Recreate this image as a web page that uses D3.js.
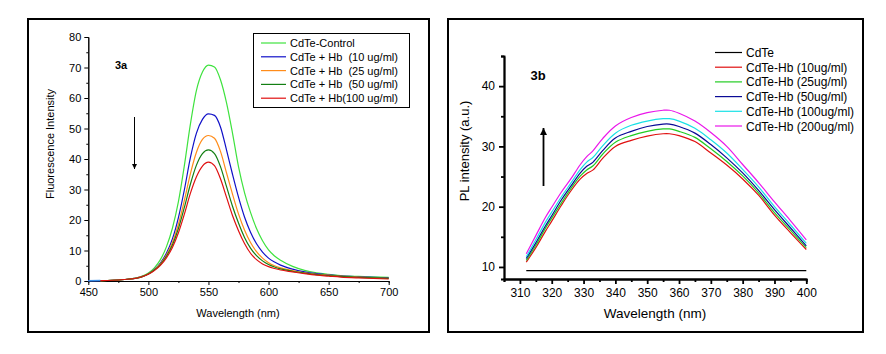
<!DOCTYPE html>
<html>
<head>
<meta charset="utf-8">
<script src="https://cdn.jsdelivr.net/npm/d3@7"></script>
<style>
  body { margin: 0; background: #fff; }
  svg text { font-family: "Liberation Sans", Arial, sans-serif; }
  .axis path, .axis line { stroke: #000; }
  .axis text { fill: #000; }
</style>
</head>
<body>
<svg id="chart" width="886" height="354"></svg>
<script>
// ---- Panel 3a : fluorescence quenching ----
var waveA = [450, 460, 470, 480, 490, 495, 500, 505, 510, 515, 520, 525, 530, 535, 540, 545, 550, 555,
  560, 565, 570, 575, 580, 585, 590, 595, 600, 605, 610, 620, 630, 640, 650, 660, 675, 700];
var controlA = [null, 0.15, 0.25, 0.5, 1.0, 1.6, 2.6, 4.3, 7.0, 11.2, 17.3, 26, 38, 51.5, 62.5, 68.5, 70.8, 70.2,
  66, 58.5, 48.5, 37.5, 29, 22.5, 17.2, 13.2, 10.2, 8.2, 6.8, 4.8, 3.5, 2.7, 2.2, 1.8, 1.5, 1.2];
var hb10A = [0.1, 0.15, 0.25, 0.5, 0.95, 1.5, 2.4, 3.8, 5.9, 9.1, 13.8, 20.8, 30, 40.5, 48.5, 53, 54.8, 54.3,
  50.5, 43, 35, 27.5, 21, 16, 12.2, 9.5, 7.5, 6.2, 5.2, 3.9, 3.0, 2.4, 2.0, 1.7, 1.4, 1.0];
var hb25A = [null, 0.15, 0.25, 0.5, 0.95, 1.5, 2.35, 3.7, 5.6, 8.5, 12.6, 18.6, 26.5, 35.2, 42.2, 46.4, 47.7, 46.8,
  42.5, 35.5, 28.5, 22, 16.7, 12.6, 9.6, 7.5, 6.0, 5.0, 4.3, 3.4, 2.7, 2.2, 1.9, 1.6, 1.3, 0.9];
var hb50A = [null, 0.15, 0.25, 0.5, 0.9, 1.45, 2.3, 3.6, 5.4, 8.1, 11.8, 17.2, 24.2, 31.8, 38, 41.8, 43, 41.8,
  37.5, 31, 24.5, 19, 14.3, 10.8, 8.3, 6.6, 5.4, 4.6, 4.0, 3.2, 2.6, 2.1, 1.8, 1.5, 1.2, 0.85];
var hb100A = [null, 0.15, 0.25, 0.5, 0.9, 1.4, 2.2, 3.4, 5.1, 7.6, 11, 15.8, 22, 28.8, 34.2, 37.7, 39, 37.8,
  33.5, 27.5, 21.5, 16.5, 12.3, 9.1, 7.0, 5.6, 4.7, 4.1, 3.6, 3.0, 2.4, 1.9, 1.6, 1.3, 1.0, 0.65];
var labelsA = ['CdTe-Control', 'CdTe + Hb  (10 ug/ml)', 'CdTe + Hb  (25 ug/ml)',
  'CdTe + Hb  (50 ug/ml)', 'CdTe + Hb(100 ug/ml)'];
var xTicksA = [450, 500, 550, 600, 650, 700];
var yTicksA = [0, 10, 20, 30, 40, 50, 60, 70, 80];

// ---- Panel 3b : PL enhancement ----
var waveB = [312, 315, 318, 320, 323, 326, 329, 331, 333, 336, 340, 345, 350, 355, 357, 360,
  365, 370, 375, 380, 385, 390, 395, 400];
var cdteB = [9.4, 9.4, 9.4, 9.4, 9.4, 9.4, 9.4, 9.4, 9.4, 9.4, 9.4, 9.4, 9.4, 9.4, 9.4, 9.4,
  9.4, 9.4, 9.4, 9.4, 9.4, 9.4, 9.4, 9.4];
var hb10B = [10.8, 13.2, 15.9, 17.6, 20.2, 22.6, 24.6, 25.5, 26.1, 28.0, 30.0, 31.0, 31.7, 32.1, 32.1, 31.8,
  30.8, 28.9, 26.9, 24.6, 21.9, 18.6, 15.7, 12.9];
var hb25B = [11.1, 13.6, 16.4, 18.1, 20.6, 23.0, 25.1, 26.1, 26.8, 28.7, 30.7, 31.8, 32.5, 32.9, 32.9, 32.5,
  31.5, 29.6, 27.5, 25.1, 22.3, 19.0, 16.1, 13.2];
var hb50B = [11.4, 14.0, 16.8, 18.5, 21.1, 23.4, 25.6, 26.7, 27.4, 29.3, 31.4, 32.5, 33.3, 33.7, 33.7, 33.3,
  32.2, 30.3, 28.1, 25.6, 22.7, 19.5, 16.5, 13.5];
var hb100B = [11.7, 14.5, 17.4, 19.1, 21.6, 23.9, 26.2, 27.4, 28.2, 30.1, 32.2, 33.5, 34.2, 34.6, 34.6, 34.2,
  33.0, 31.1, 28.9, 26.2, 23.3, 20.0, 17.0, 13.9];
var hb200B = [12.2, 15.2, 18.2, 19.9, 22.4, 24.6, 27.0, 28.3, 29.3, 31.3, 33.4, 34.8, 35.6, 36.0, 36.0, 35.5,
  34.2, 32.3, 30.0, 27.0, 24.0, 20.8, 17.7, 14.5];
var labelsB = ['CdTe', 'CdTe-Hb (10ug/ml)', 'CdTe-Hb (25ug/ml)', 'CdTe-Hb (50ug/ml)',
  'CdTe-Hb (100ug/ml)', 'CdTe-Hb (200ug/ml)'];
var xTicksB = [310, 320, 330, 340, 350, 360, 370, 380, 390, 400];
var yTicksB = [10, 20, 30, 40];

var svg = d3.select('#chart');

// arrow heads
var defs = svg.append('defs');
function addArrow(id, w, h) {
  defs.append('marker')
    .attr('id', id)
    .attr('viewBox', '0 0 10 10')
    .attr('refX', 10).attr('refY', 5)
    .attr('markerUnits', 'userSpaceOnUse')
    .attr('markerWidth', w).attr('markerHeight', h)
    .attr('orient', 'auto')
    .append('path')
    .attr('d', 'M0,0 L10,5 L0,10 Z')
    .attr('fill', '#000');
}
addArrow('headA', 9, 5);
addArrow('headB', 10, 7);

// frames round each panel
svg.append('rect').attr('x', 28).attr('y', 19).attr('width', 401).attr('height', 313)
  .attr('fill', 'none').attr('stroke', '#000').attr('stroke-width', 2);
svg.append('rect').attr('x', 448).attr('y', 19).attr('width', 415).attr('height', 313)
  .attr('fill', 'none').attr('stroke', '#000').attr('stroke-width', 2);

/** draws a major + minor tick axis pair */
function drawAxis(g, axisFn, scale, major, minor, majorSize, minorSize, fontSize, pad) {
  g.append('g').attr('class', 'axis')
    .call(axisFn(scale).tickValues(minor).tickSize(minorSize).tickFormat(''));
  g.append('g').attr('class', 'axis')
    .call(axisFn(scale).tickValues(major).tickSize(majorSize).tickSizeOuter(0).tickPadding(pad))
    .selectAll('text').style('font-size', fontSize + 'px');
}

// ================= Panel 3a =================
var xA = d3.scaleLinear().domain([450, 700]).range([88.3, 388.7]);
var yA = d3.scaleLinear().domain([0, 80]).range([281, 37]);
var gA = svg.append('g');

var gxA = gA.append('g').attr('transform', 'translate(0,281)');
drawAxis(gxA, d3.axisBottom, xA, xTicksA, [475, 525, 575, 625, 675], 4, 2, 11, 3);
var gyA = gA.append('g').attr('transform', 'translate(88.3,0)');
drawAxis(gyA, d3.axisLeft, yA, yTicksA, d3.range(5, 80, 10), 4, 2, 11, 3);

gA.append('text').attr('x', 238).attr('y', 317).attr('text-anchor', 'middle')
  .style('font-size', '11px').text('Wavelength (nm)');
gA.append('text').attr('transform', 'translate(54,144) rotate(-90)').attr('text-anchor', 'middle')
  .style('font-size', '11px').text('Fluorescence Intensity');

var seriesA = [
  { values: controlA, color: '#3ee23e' },
  { values: hb10A, color: '#1010c8' },
  { values: hb25A, color: '#ff8c1a' },
  { values: hb50A, color: '#137f13' },
  { values: hb100A, color: '#e01010' }
];
var lineA = d3.line()
  .defined(function (d) { return d[1] !== null; })
  .x(function (d) { return xA(d[0]); })
  .y(function (d) { return yA(d[1]); })
  .curve(d3.curveMonotoneX);
seriesA.forEach(function (s) {
  var pts = waveA.map(function (w, j) { return [w, s.values[j]]; });
  gA.append('path').attr('d', lineA(pts)).attr('fill', 'none')
    .attr('stroke', s.color).attr('stroke-width', 1.2);
});
// the light blue start of the trace
gA.append('path').attr('d', lineA([[waveA[0], hb10A[0]], [waveA[1], hb10A[1]]])).attr('fill', 'none')
  .attr('stroke', '#3a8ee8').attr('stroke-width', 1.4);

// legend
var legA = gA.append('g');
legA.append('rect').attr('x', 253.5).attr('y', 33.5).attr('width', 156).attr('height', 74)
  .attr('fill', '#fff').attr('stroke', '#000').attr('stroke-width', 1);
seriesA.forEach(function (s, i) {
  var y = 43 + i * 13.8;
  legA.append('line').attr('x1', 261).attr('x2', 286).attr('y1', y).attr('y2', y)
    .attr('stroke', s.color).attr('stroke-width', 1.2);
  legA.append('text').attr('x', 290).attr('y', y + 4).style('font-size', '11px')
    .style('white-space', 'pre').text(labelsA[i]);
});

gA.append('text').attr('x', 121).attr('y', 69).attr('text-anchor', 'middle')
  .style('font-size', '11px').style('font-weight', 'bold').text('3a');
gA.append('line').attr('x1', 134.5).attr('x2', 134.5).attr('y1', 117).attr('y2', 169)
  .attr('stroke', '#000').attr('stroke-width', 1).attr('marker-end', 'url(#headA)');

// ================= Panel 3b =================
var xB = d3.scaleLinear().domain([305, 400]).range([504, 806.3]);
var yB = d3.scaleLinear().domain([8, 45]).range([279, 56]);
var gB = svg.append('g');

var gxB = gB.append('g').attr('transform', 'translate(0,279)');
drawAxis(gxB, d3.axisBottom, xB, xTicksB, d3.range(305, 400, 10), 5, 3, 12, 4);
var gyB = gB.append('g').attr('transform', 'translate(504,0)');
drawAxis(gyB, d3.axisLeft, yB, yTicksB, [15, 25, 35, 45], 5, 3, 12, 4);
gB.selectAll('.axis path, .axis line').attr('stroke-width', 1.8);

gB.append('text').attr('x', 655).attr('y', 318).attr('text-anchor', 'middle')
  .style('font-size', '13.5px').text('Wavelength (nm)');
gB.append('text').attr('transform', 'translate(469,151) rotate(-90)').attr('text-anchor', 'middle')
  .style('font-size', '13px').text('PL intensity (a.u.)');

var seriesB = [
  { values: cdteB, color: '#000000' },
  { values: hb10B, color: '#e01010' },
  { values: hb25B, color: '#22cc22' },
  { values: hb50B, color: '#0a0a96' },
  { values: hb100B, color: '#19e1e6' },
  { values: hb200B, color: '#ea16ea' }
];
// catmull-rom keeps the broad PL hump smooth between the sparse readings
var lineB = d3.line()
  .x(function (d) { return xB(d[0]); })
  .y(function (d) { return yB(d[1]); })
  .curve(d3.curveCatmullRom.alpha(0.5));
seriesB.forEach(function (s) {
  var pts = waveB.map(function (w, j) { return [w, s.values[j]]; });
  gB.append('path').attr('d', lineB(pts)).attr('fill', 'none')
    .attr('stroke', s.color).attr('stroke-width', 1.2);
});

var legB = gB.append('g');
seriesB.forEach(function (s, i) {
  var y = 52.5 + i * 14.7;
  legB.append('line').attr('x1', 715).attr('x2', 742).attr('y1', y).attr('y2', y)
    .attr('stroke', s.color).attr('stroke-width', 1.2);
  legB.append('text').attr('x', 746).attr('y', y + 4.5).style('font-size', '12px')
    .text(labelsB[i]);
});

gB.append('text').attr('x', 538).attr('y', 80).attr('text-anchor', 'middle')
  .style('font-size', '13px').style('font-weight', 'bold').text('3b');
gB.append('line').attr('x1', 543.5).attr('x2', 543.5).attr('y1', 186).attr('y2', 128)
  .attr('stroke', '#000').attr('stroke-width', 1.8).attr('marker-end', 'url(#headB)');
</script>
</body>
</html>
